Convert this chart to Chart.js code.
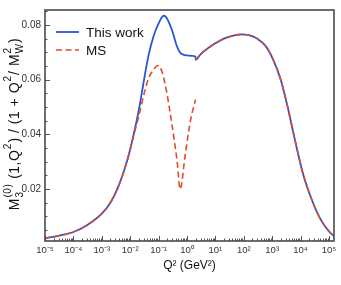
<!DOCTYPE html>
<html>
<head>
<meta charset="utf-8">
<script src="https://cdn.jsdelivr.net/npm/chart.js@4.4.1/dist/chart.umd.min.js"></script>
<style>
  html, body { margin: 0; padding: 0; background: #fff; }
  canvas { display: block; }
</style>
</head>
<body>
<canvas id="chart" width="341" height="285"></canvas>
<script>
// Q^2 values (GeV^2) and curve values
var qWork = [1e-5, 3e-5, 1e-4, 3e-4, 1e-3, 2e-3, 3.5e-3, 6e-3, 0.01, 0.0134, 0.0195, 0.0257, 0.0339, 0.0447, 0.066, 0.1, 0.151, 0.19, 0.295, 0.447, 0.63, 1.15, 2.0,
             2.02, 3, 5, 10, 22, 50, 80, 150, 300, 600, 1100, 2000, 3500, 6000, 12000, 25000, 50000, 100000, 150000];
var mWork = [0.0020, 0.0029, 0.0043, 0.0068, 0.0110, 0.0150, 0.0200, 0.0265, 0.0345, 0.0402, 0.0482, 0.0552, 0.0626, 0.0691, 0.0758, 0.0806, 0.0834, 0.0827, 0.0782, 0.0721, 0.0695, 0.0688, 0.0685,
             0.0673, 0.0693, 0.0712, 0.0733, 0.0752, 0.0763, 0.0766, 0.0763, 0.0750, 0.0722, 0.0672, 0.0600, 0.0500, 0.0390, 0.0258, 0.0160, 0.0090, 0.0045, 0.0028];

var qMS = [1e-5, 3e-5, 1e-4, 3e-4, 1e-3, 2e-3, 3.5e-3, 6e-3, 0.01, 0.0134, 0.0195, 0.0257, 0.0339, 0.0447, 0.066, 0.095, 0.131, 0.19, 0.295, 0.447, 0.575, 0.87, 1.31, 2.0,
           2.01,
           2.02, 3, 5, 10, 22, 50, 80, 150, 300, 600, 1100, 2000, 3500, 6000, 12000, 25000, 50000, 100000, 150000];
var mMS = [0.0020, 0.0029, 0.0043, 0.0068, 0.0110, 0.0150, 0.0200, 0.0265, 0.0345, 0.0398, 0.0462, 0.0515, 0.0565, 0.0606, 0.0636, 0.0652, 0.0630, 0.0558, 0.0436, 0.0303, 0.0200, 0.0327, 0.0448, 0.0527,
           null,
           0.0673, 0.0693, 0.0712, 0.0733, 0.0752, 0.0763, 0.0766, 0.0763, 0.0750, 0.0722, 0.0672, 0.0600, 0.0500, 0.0390, 0.0258, 0.0160, 0.0090, 0.0045, 0.0028];

var xTickValues = [1e-5, 1e-4, 1e-3, 1e-2, 1e-1, 1, 10, 100, 1000, 10000, 100000];
var xTickLabels = ['10\u207B\u2075', '10\u207B\u2074', '10\u207B\u00B3', '10\u207B\u00B2', '10\u207B\u00B9', '10\u2070', '10\u00B9', '10\u00B2', '10\u00B3', '10\u2074', '10\u2075'];
var yTickValues = [0.02, 0.04, 0.06, 0.08];
var yTickLabels = ['0.02', '0.04', '0.06', '0.08'];

var FONT = '"Liberation Sans", Arial, Helvetica, sans-serif';

function points(qs, ms) {
    return qs.map(function (q, i) { return { x: q, y: ms[i] }; });
}

// frame + inside ticks, ROOT style
var frameTicks = {
    id: 'frameTicks',
    afterDatasetsDraw: function (chart) {
        var ctx = chart.ctx, a = chart.chartArea;
        var xs = chart.scales.x, ys = chart.scales.y;
        ctx.save();
        ctx.strokeStyle = '#555';
        ctx.lineWidth = 1;
        ctx.beginPath();
        for (var d = -5; d <= 5; d++) {
            for (var k = 1; k <= 9; k++) {
                var v = k * Math.pow(10, d);
                if (v < xs.min || v > xs.max) continue;
                var px = Math.round(xs.getPixelForValue(v)) + 0.5;
                var len = k === 1 ? 5 : 2.5;
                ctx.moveTo(px, a.bottom);
                ctx.lineTo(px, a.bottom - len);
            }
        }
        for (var j = 1; j <= 17; j++) {
            var yv = j * 0.005;
            if (yv < ys.min || yv > ys.max) continue;
            var py = Math.round(ys.getPixelForValue(yv)) + 0.5;
            var l = j % 4 === 0 ? 5 : 2.5;
            ctx.moveTo(a.left, py);
            ctx.lineTo(a.left + l, py);
        }
        ctx.stroke();
        ctx.lineWidth = 1.6;
        ctx.strokeStyle = '#4a4a4a';
        ctx.strokeRect(a.left, a.top, a.right - a.left, a.bottom - a.top);
        ctx.restore();
    }
};

// legend inside the frame
var innerLegend = {
    id: 'innerLegend',
    afterDraw: function (chart) {
        var ctx = chart.ctx, a = chart.chartArea;
        ctx.save();
        ctx.font = '13.5px ' + FONT;
        ctx.textBaseline = 'middle';
        chart.data.datasets.forEach(function (ds, i) {
            var y = a.top + 22 + i * 18;
            ctx.strokeStyle = ds.borderColor;
            ctx.lineWidth = ds.borderWidth;
            ctx.setLineDash(ds.borderDash || []);
            ctx.beginPath();
            ctx.moveTo(a.left + 11, y);
            ctx.lineTo(a.left + 34, y);
            ctx.stroke();
            ctx.fillStyle = '#111';
            ctx.fillText(ds.label, a.left + 41, y + 1);
        });
        ctx.restore();
    }
};

// rotated y title with sub/superscripts
var yTitleParts = [
    { t: 'M' }, { sub: '3', sup: '(0)' }, { t: ' (1,Q' }, { sup: '2' }, { t: ') / (1 + Q' }, { sup: '2' },
    { t: '/ M' }, { sub: 'W', sup: '2' }, { t: ')' }
];
var yTitle = {
    id: 'yTitle',
    afterDraw: function (chart) {
        var ctx = chart.ctx, a = chart.chartArea;
        var big = '14px ' + FONT, small = '10px ' + FONT;
        ctx.save();
        ctx.letterSpacing = '0.5px';
        var total = 0;
        var widths = yTitleParts.map(function (p) {
            var w;
            if (p.t) { ctx.font = big; w = ctx.measureText(p.t).width; }
            else {
                ctx.font = small;
                w = Math.max(p.sub ? ctx.measureText(p.sub).width : 0, p.sup ? ctx.measureText(p.sup).width : 0) + 1;
            }
            total += w;
            return w;
        });
        ctx.translate(19, 124);
        ctx.rotate(-Math.PI / 2);
        ctx.fillStyle = '#111';
        ctx.textBaseline = 'alphabetic';
        var x = -total / 2;
        yTitleParts.forEach(function (p, i) {
            if (p.t) { ctx.font = big; ctx.fillText(p.t, x, 0); }
            else {
                ctx.font = small;
                if (p.sub) ctx.fillText(p.sub, x + 0.5, 3.5);
                if (p.sup) ctx.fillText(p.sup, x + 0.5, -8);
            }
            x += widths[i];
        });
        ctx.restore();
    }
};

new Chart(document.getElementById('chart'), {
    type: 'line',
    data: {
        datasets: [{
            label: 'This work',
            data: points(qWork, mWork),
            borderColor: '#2a55d6',
            borderWidth: 1.8,
            pointRadius: 0,
            fill: false,
            cubicInterpolationMode: 'monotone',
            order: 2
        }, {
            label: 'MS',
            data: points(qMS, mMS),
            borderColor: '#e24a2c',
            borderWidth: 1.6,
            borderDash: [6, 3.5],
            pointRadius: 0,
            fill: false,
            spanGaps: false,
            cubicInterpolationMode: 'monotone',
            order: 1
        }]
    },
    options: {
        responsive: false,
        animation: false,
        events: [],
        layout: { padding: { top: 10, right: 7, left: 0, bottom: 0 } },
        plugins: { legend: { display: false }, tooltip: { enabled: false } },
        scales: {
            x: {
                type: 'logarithmic',
                min: 1e-5,
                max: 1.5e5,
                grid: { display: false, drawTicks: false },
                border: { display: false },
                afterFit: function (s) { s.height = 44; },
                afterBuildTicks: function (s) {
                    s.ticks = xTickValues.map(function (v) { return { value: v }; });
                },
                ticks: {
                    autoSkip: false,
                    maxRotation: 0,
                    padding: 4,
                    color: '#333',
                    font: { size: 9.5, family: FONT },
                    callback: function (v, i) { return xTickLabels[i]; }
                },
                title: {
                    display: true,
                    text: 'Q\u00B2 (GeV\u00B2)',
                    color: '#111',
                    font: { size: 12, family: FONT },
                    padding: { top: 0, bottom: 12 }
                }
            },
            y: {
                min: 0.001,
                max: 0.0855,
                grid: { display: false, drawTicks: false },
                border: { display: false },
                afterFit: function (s) { s.width = 45; },
                afterBuildTicks: function (s) {
                    s.ticks = yTickValues.map(function (v) { return { value: v }; });
                },
                ticks: {
                    padding: 4,
                    color: '#333',
                    font: { size: 10, family: FONT },
                    callback: function (v, i) { return yTickLabels[i]; }
                }
            }
        }
    },
    plugins: [frameTicks, innerLegend, yTitle]
});
</script>
</body>
</html>
